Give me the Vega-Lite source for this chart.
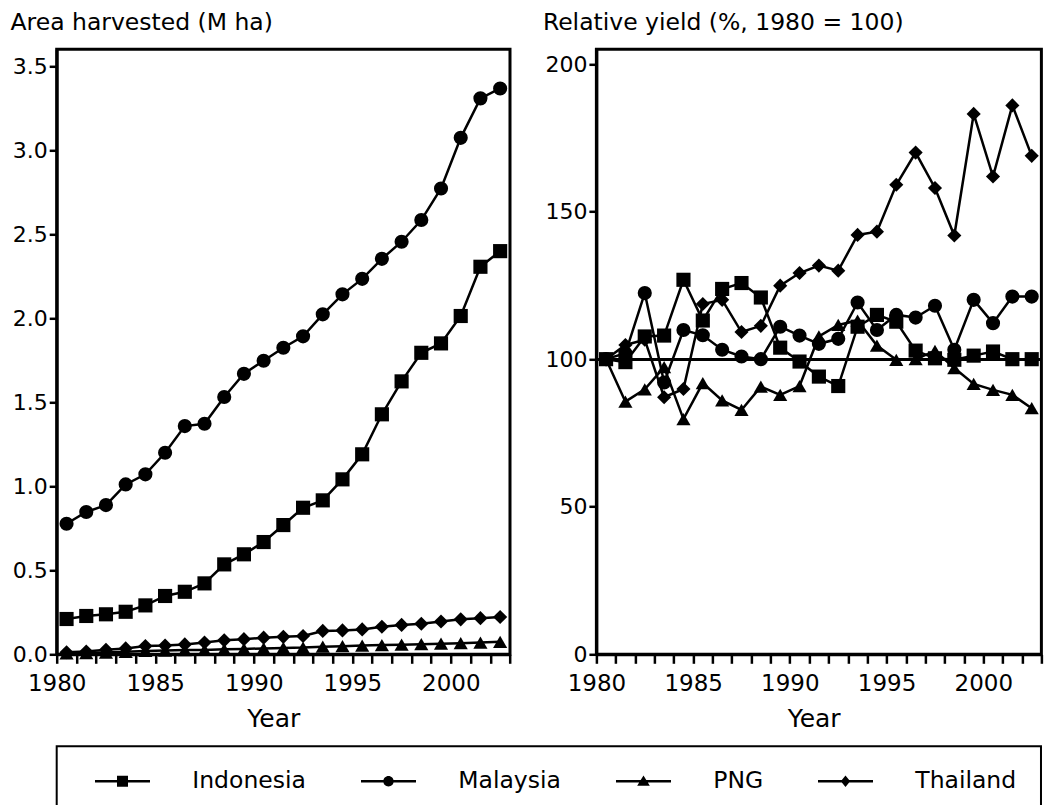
{
  "$schema": "https://vega.github.io/schema/vega-lite/v6.json",
  "autosize": {"type": "pad"},
  "padding": {"left": 7.7, "top": 8.3, "right": 0, "bottom": -4},
  "background": "white",
  "datasets": {
    "area": [
      {"country": "Indonesia", "year": 1980, "value": 0.21},
      {"country": "Indonesia", "year": 1981, "value": 0.228},
      {"country": "Indonesia", "year": 1982, "value": 0.238},
      {"country": "Indonesia", "year": 1983, "value": 0.253},
      {"country": "Indonesia", "year": 1984, "value": 0.291},
      {"country": "Indonesia", "year": 1985, "value": 0.347},
      {"country": "Indonesia", "year": 1986, "value": 0.372},
      {"country": "Indonesia", "year": 1987, "value": 0.422},
      {"country": "Indonesia", "year": 1988, "value": 0.535},
      {"country": "Indonesia", "year": 1989, "value": 0.595},
      {"country": "Indonesia", "year": 1990, "value": 0.668},
      {"country": "Indonesia", "year": 1991, "value": 0.769},
      {"country": "Indonesia", "year": 1992, "value": 0.872},
      {"country": "Indonesia", "year": 1993, "value": 0.916},
      {"country": "Indonesia", "year": 1994, "value": 1.041},
      {"country": "Indonesia", "year": 1995, "value": 1.19},
      {"country": "Indonesia", "year": 1996, "value": 1.428},
      {"country": "Indonesia", "year": 1997, "value": 1.624},
      {"country": "Indonesia", "year": 1998, "value": 1.794},
      {"country": "Indonesia", "year": 1999, "value": 1.85},
      {"country": "Indonesia", "year": 2000, "value": 2.013},
      {"country": "Indonesia", "year": 2001, "value": 2.306},
      {"country": "Indonesia", "year": 2002, "value": 2.399},
      {"country": "Malaysia", "year": 1980, "value": 0.777},
      {"country": "Malaysia", "year": 1981, "value": 0.847},
      {"country": "Malaysia", "year": 1982, "value": 0.888},
      {"country": "Malaysia", "year": 1983, "value": 1.011},
      {"country": "Malaysia", "year": 1984, "value": 1.071},
      {"country": "Malaysia", "year": 1985, "value": 1.199},
      {"country": "Malaysia", "year": 1986, "value": 1.358},
      {"country": "Malaysia", "year": 1987, "value": 1.372},
      {"country": "Malaysia", "year": 1988, "value": 1.531},
      {"country": "Malaysia", "year": 1989, "value": 1.669},
      {"country": "Malaysia", "year": 1990, "value": 1.747},
      {"country": "Malaysia", "year": 1991, "value": 1.824},
      {"country": "Malaysia", "year": 1992, "value": 1.892},
      {"country": "Malaysia", "year": 1993, "value": 2.023},
      {"country": "Malaysia", "year": 1994, "value": 2.142},
      {"country": "Malaysia", "year": 1995, "value": 2.234},
      {"country": "Malaysia", "year": 1996, "value": 2.353},
      {"country": "Malaysia", "year": 1997, "value": 2.455},
      {"country": "Malaysia", "year": 1998, "value": 2.584},
      {"country": "Malaysia", "year": 1999, "value": 2.772},
      {"country": "Malaysia", "year": 2000, "value": 3.073},
      {"country": "Malaysia", "year": 2001, "value": 3.308},
      {"country": "Malaysia", "year": 2002, "value": 3.367},
      {"country": "PNG", "year": 1980, "value": 0.005},
      {"country": "PNG", "year": 1981, "value": 0.007},
      {"country": "PNG", "year": 1982, "value": 0.01},
      {"country": "PNG", "year": 1983, "value": 0.015},
      {"country": "PNG", "year": 1984, "value": 0.02},
      {"country": "PNG", "year": 1985, "value": 0.022},
      {"country": "PNG", "year": 1986, "value": 0.025},
      {"country": "PNG", "year": 1987, "value": 0.026},
      {"country": "PNG", "year": 1988, "value": 0.03},
      {"country": "PNG", "year": 1989, "value": 0.032},
      {"country": "PNG", "year": 1990, "value": 0.035},
      {"country": "PNG", "year": 1991, "value": 0.038},
      {"country": "PNG", "year": 1992, "value": 0.04},
      {"country": "PNG", "year": 1993, "value": 0.045},
      {"country": "PNG", "year": 1994, "value": 0.048},
      {"country": "PNG", "year": 1995, "value": 0.052},
      {"country": "PNG", "year": 1996, "value": 0.055},
      {"country": "PNG", "year": 1997, "value": 0.057},
      {"country": "PNG", "year": 1998, "value": 0.06},
      {"country": "PNG", "year": 1999, "value": 0.063},
      {"country": "PNG", "year": 2000, "value": 0.066},
      {"country": "PNG", "year": 2001, "value": 0.07},
      {"country": "PNG", "year": 2002, "value": 0.074},
      {"country": "Thailand", "year": 1980, "value": 0.012},
      {"country": "Thailand", "year": 1981, "value": 0.016},
      {"country": "Thailand", "year": 1982, "value": 0.027},
      {"country": "Thailand", "year": 1983, "value": 0.035},
      {"country": "Thailand", "year": 1984, "value": 0.049},
      {"country": "Thailand", "year": 1985, "value": 0.052},
      {"country": "Thailand", "year": 1986, "value": 0.059},
      {"country": "Thailand", "year": 1987, "value": 0.07},
      {"country": "Thailand", "year": 1988, "value": 0.083},
      {"country": "Thailand", "year": 1989, "value": 0.09},
      {"country": "Thailand", "year": 1990, "value": 0.099},
      {"country": "Thailand", "year": 1991, "value": 0.104},
      {"country": "Thailand", "year": 1992, "value": 0.109},
      {"country": "Thailand", "year": 1993, "value": 0.139},
      {"country": "Thailand", "year": 1994, "value": 0.142},
      {"country": "Thailand", "year": 1995, "value": 0.148},
      {"country": "Thailand", "year": 1996, "value": 0.164},
      {"country": "Thailand", "year": 1997, "value": 0.175},
      {"country": "Thailand", "year": 1998, "value": 0.182},
      {"country": "Thailand", "year": 1999, "value": 0.195},
      {"country": "Thailand", "year": 2000, "value": 0.208},
      {"country": "Thailand", "year": 2001, "value": 0.215},
      {"country": "Thailand", "year": 2002, "value": 0.222}
    ],
    "yield": [
      {"country": "Indonesia", "year": 1980, "value": 100},
      {"country": "Indonesia", "year": 1981, "value": 99.0},
      {"country": "Indonesia", "year": 1982, "value": 107.7},
      {"country": "Indonesia", "year": 1983, "value": 108.0},
      {"country": "Indonesia", "year": 1984, "value": 126.9},
      {"country": "Indonesia", "year": 1985, "value": 113.1},
      {"country": "Indonesia", "year": 1986, "value": 123.8},
      {"country": "Indonesia", "year": 1987, "value": 125.8},
      {"country": "Indonesia", "year": 1988, "value": 120.9},
      {"country": "Indonesia", "year": 1989, "value": 103.9},
      {"country": "Indonesia", "year": 1990, "value": 99.2},
      {"country": "Indonesia", "year": 1991, "value": 94.1},
      {"country": "Indonesia", "year": 1992, "value": 90.9},
      {"country": "Indonesia", "year": 1993, "value": 111.0},
      {"country": "Indonesia", "year": 1994, "value": 115.0},
      {"country": "Indonesia", "year": 1995, "value": 112.7},
      {"country": "Indonesia", "year": 1996, "value": 102.9},
      {"country": "Indonesia", "year": 1997, "value": 100.3},
      {"country": "Indonesia", "year": 1998, "value": 99.8},
      {"country": "Indonesia", "year": 1999, "value": 101.2},
      {"country": "Indonesia", "year": 2000, "value": 102.6},
      {"country": "Indonesia", "year": 2001, "value": 100},
      {"country": "Indonesia", "year": 2002, "value": 100},
      {"country": "Malaysia", "year": 1980, "value": 100},
      {"country": "Malaysia", "year": 1981, "value": 102},
      {"country": "Malaysia", "year": 1982, "value": 122.4},
      {"country": "Malaysia", "year": 1983, "value": 92.1},
      {"country": "Malaysia", "year": 1984, "value": 109.9},
      {"country": "Malaysia", "year": 1985, "value": 108.1},
      {"country": "Malaysia", "year": 1986, "value": 103.2},
      {"country": "Malaysia", "year": 1987, "value": 100.9},
      {"country": "Malaysia", "year": 1988, "value": 100.0},
      {"country": "Malaysia", "year": 1989, "value": 111.0},
      {"country": "Malaysia", "year": 1990, "value": 108.0},
      {"country": "Malaysia", "year": 1991, "value": 105.2},
      {"country": "Malaysia", "year": 1992, "value": 106.9},
      {"country": "Malaysia", "year": 1993, "value": 119.2},
      {"country": "Malaysia", "year": 1994, "value": 109.9},
      {"country": "Malaysia", "year": 1995, "value": 115.0},
      {"country": "Malaysia", "year": 1996, "value": 114.1},
      {"country": "Malaysia", "year": 1997, "value": 118.1},
      {"country": "Malaysia", "year": 1998, "value": 103.2},
      {"country": "Malaysia", "year": 1999, "value": 120.1},
      {"country": "Malaysia", "year": 2000, "value": 112.2},
      {"country": "Malaysia", "year": 2001, "value": 121.2},
      {"country": "Malaysia", "year": 2002, "value": 121.2},
      {"country": "PNG", "year": 1980, "value": 100},
      {"country": "PNG", "year": 1981, "value": 85.6},
      {"country": "PNG", "year": 1982, "value": 89.8},
      {"country": "PNG", "year": 1983, "value": 97.3},
      {"country": "PNG", "year": 1984, "value": 79.7},
      {"country": "PNG", "year": 1985, "value": 91.9},
      {"country": "PNG", "year": 1986, "value": 86.0},
      {"country": "PNG", "year": 1987, "value": 82.8},
      {"country": "PNG", "year": 1988, "value": 90.7},
      {"country": "PNG", "year": 1989, "value": 87.9},
      {"country": "PNG", "year": 1990, "value": 90.9},
      {"country": "PNG", "year": 1991, "value": 107.7},
      {"country": "PNG", "year": 1992, "value": 111.6},
      {"country": "PNG", "year": 1993, "value": 113.1},
      {"country": "PNG", "year": 1994, "value": 104.6},
      {"country": "PNG", "year": 1995, "value": 99.8},
      {"country": "PNG", "year": 1996, "value": 100},
      {"country": "PNG", "year": 1997, "value": 102.8},
      {"country": "PNG", "year": 1998, "value": 97.0},
      {"country": "PNG", "year": 1999, "value": 91.6},
      {"country": "PNG", "year": 2000, "value": 89.6},
      {"country": "PNG", "year": 2001, "value": 87.9},
      {"country": "PNG", "year": 2002, "value": 83.4},
      {"country": "Thailand", "year": 1980, "value": 100},
      {"country": "Thailand", "year": 1981, "value": 104.8},
      {"country": "Thailand", "year": 1982, "value": 106.6},
      {"country": "Thailand", "year": 1983, "value": 87.1},
      {"country": "Thailand", "year": 1984, "value": 89.9},
      {"country": "Thailand", "year": 1985, "value": 118.7},
      {"country": "Thailand", "year": 1986, "value": 120.1},
      {"country": "Thailand", "year": 1987, "value": 109.2},
      {"country": "Thailand", "year": 1988, "value": 111.3},
      {"country": "Thailand", "year": 1989, "value": 124.9},
      {"country": "Thailand", "year": 1990, "value": 129.2},
      {"country": "Thailand", "year": 1991, "value": 131.7},
      {"country": "Thailand", "year": 1992, "value": 130.0},
      {"country": "Thailand", "year": 1993, "value": 142.1},
      {"country": "Thailand", "year": 1994, "value": 143.2},
      {"country": "Thailand", "year": 1995, "value": 159.1},
      {"country": "Thailand", "year": 1996, "value": 170.0},
      {"country": "Thailand", "year": 1997, "value": 158.0},
      {"country": "Thailand", "year": 1998, "value": 141.9},
      {"country": "Thailand", "year": 1999, "value": 183.1},
      {"country": "Thailand", "year": 2000, "value": 161.9},
      {"country": "Thailand", "year": 2001, "value": 186.0},
      {"country": "Thailand", "year": 2002, "value": 168.9}
    ]
  },
  "config": {
    "font": "DejaVu Sans",
    "view": {"stroke": "black", "strokeWidth": 3},
    "axis": {
      "domainColor": "black", "domainWidth": 3, "tickColor": "black", "tickWidth": 2.5,
      "labelColor": "black", "titleColor": "black", "labelFont": "DejaVu Sans", "titleFont": "DejaVu Sans",
      "titleFontWeight": "normal", "grid": false, "labelFlush": false, "labelOverlap": false
    },
    "axisX": {"tickSize": 9, "labelFontSize": 23, "labelPadding": 9, "titleFontSize": 25, "labelOverlap": false},
    "axisY": {"tickSize": 7.5, "labelFontSize": 22, "labelPadding": 2, "titleFontSize": 23.5}
  },
  "resolve": {"scale": {"shape": "independent"}, "legend": {"shape": "independent"}},
  "bounds": "full",
  "spacing": 11,
  "vconcat": [
    {
      "bounds": "flush",
      "spacing": 85.7,
      "hconcat": [
        {
          "width": 453.3,
          "height": 605,
          "data": {"name": "area"},
          "layer": [
            {
              "mark": {"type": "line", "color": "black", "strokeWidth": 2.5},
              "encoding": {
                "x": {"field": "year", "type": "quantitative", "scale": {"domain": [1979.5, 2002.5], "nice": false, "zero": false},
                  "axis": {"values": [1979.5,1980.5,1981.5,1982.5,1983.5,1984.5,1985.5,1986.5,1987.5,1988.5,1989.5,1990.5,1991.5,1992.5,1993.5,1994.5,1995.5,1996.5,1997.5,1998.5,1999.5,2000.5,2001.5,2002.5],
                    "labelExpr": "(datum.value - 1979.5) % 5 === 0 ? '' + (datum.value + 0.5) : ''", "labelDx": 9.9,
                    "labelOverlap": false, "labelFlush": false,
                    "title": "Year", "titleX": 216.6, "titleY": 72.7, "titleBaseline": "alphabetic", "titleAlign": "center"}},
                "y": {"field": "value", "type": "quantitative", "scale": {"domain": [0, 3.6], "nice": false},
                  "axis": {"values": [0, 0.5, 1, 1.5, 2, 2.5, 3, 3.5], "format": ".1f", "labelOverlap": false,
                    "title": "Area harvested (M ha)", "titleAngle": 0, "titleAlign": "left", "titleBaseline": "alphabetic", "titleX": -46.7, "titleY": -20}},
                "detail": {"field": "country", "type": "nominal"}
              }
            },
            {
              "mark": {"type": "point", "filled": true, "opacity": 1, "color": "black", "size": 200},
              "encoding": {
                "x": {"field": "year", "type": "quantitative", "scale": {"domain": [1979.5, 2002.5], "nice": false, "zero": false},
                  "axis": {"values": [1979.5,1980.5,1981.5,1982.5,1983.5,1984.5,1985.5,1986.5,1987.5,1988.5,1989.5,1990.5,1991.5,1992.5,1993.5,1994.5,1995.5,1996.5,1997.5,1998.5,1999.5,2000.5,2001.5,2002.5],
                    "labelExpr": "(datum.value - 1979.5) % 5 === 0 ? '' + (datum.value + 0.5) : ''", "labelDx": 9.9,
                    "labelOverlap": false, "labelFlush": false,
                    "title": "Year", "titleX": 216.6, "titleY": 72.7, "titleBaseline": "alphabetic", "titleAlign": "center"}},
                "y": {"field": "value", "type": "quantitative", "scale": {"domain": [0, 3.6], "nice": false},
                  "axis": {"values": [0, 0.5, 1, 1.5, 2, 2.5, 3, 3.5], "format": ".1f", "labelOverlap": false,
                    "title": "Area harvested (M ha)", "titleAngle": 0, "titleAlign": "left", "titleBaseline": "alphabetic", "titleX": -46.7, "titleY": -20}},
                "shape": {"field": "country", "type": "nominal",
                  "scale": {"domain": ["Indonesia", "Malaysia", "PNG", "Thailand"], "range": ["square", "circle", "triangle-up", "diamond"]},
                  "legend": null}
              }
            }
          ]
        },
        {
          "width": 445,
          "height": 605,
          "data": {"name": "yield"},
          "layer": [
            {
              "mark": {"type": "rule", "color": "black", "strokeWidth": 2.5},
              "encoding": {"y": {"datum": 100}}
            },
            {
              "mark": {"type": "line", "color": "black", "strokeWidth": 2.5},
              "encoding": {
                "x": {"field": "year", "type": "quantitative", "scale": {"domain": [1979.5, 2002.5], "nice": false, "zero": false},
                  "axis": {"values": [1979.5,1980.5,1981.5,1982.5,1983.5,1984.5,1985.5,1986.5,1987.5,1988.5,1989.5,1990.5,1991.5,1992.5,1993.5,1994.5,1995.5,1996.5,1997.5,1998.5,1999.5,2000.5,2001.5,2002.5],
                    "labelExpr": "(datum.value - 1979.5) % 5 === 0 ? '' + (datum.value + 0.5) : ''", "labelDx": 9.7,
                    "labelOverlap": false, "labelFlush": false,
                    "title": "Year", "titleX": 217.3, "titleY": 72.7, "titleBaseline": "alphabetic", "titleAlign": "center"}},
                "y": {"field": "value", "type": "quantitative", "scale": {"domain": [0, 205], "nice": false},
                  "axis": {"values": [0, 50, 100, 150, 200], "labelOverlap": false,
                    "title": "Relative yield (%, 1980 = 100)", "titleAngle": 0, "titleAlign": "left", "titleBaseline": "alphabetic", "titleX": -54, "titleY": -20}},
                "detail": {"field": "country", "type": "nominal"}
              }
            },
            {
              "mark": {"type": "point", "filled": true, "opacity": 1, "color": "black", "size": 200},
              "encoding": {
                "x": {"field": "year", "type": "quantitative", "scale": {"domain": [1979.5, 2002.5], "nice": false, "zero": false},
                  "axis": {"values": [1979.5,1980.5,1981.5,1982.5,1983.5,1984.5,1985.5,1986.5,1987.5,1988.5,1989.5,1990.5,1991.5,1992.5,1993.5,1994.5,1995.5,1996.5,1997.5,1998.5,1999.5,2000.5,2001.5,2002.5],
                    "labelExpr": "(datum.value - 1979.5) % 5 === 0 ? '' + (datum.value + 0.5) : ''", "labelDx": 9.7,
                    "labelOverlap": false, "labelFlush": false,
                    "title": "Year", "titleX": 217.3, "titleY": 72.7, "titleBaseline": "alphabetic", "titleAlign": "center"}},
                "y": {"field": "value", "type": "quantitative", "scale": {"domain": [0, 205], "nice": false},
                  "axis": {"values": [0, 50, 100, 150, 200], "labelOverlap": false,
                    "title": "Relative yield (%, 1980 = 100)", "titleAngle": 0, "titleAlign": "left", "titleBaseline": "alphabetic", "titleX": -54, "titleY": -20}},
                "shape": {"field": "country", "type": "nominal",
                  "scale": {"domain": ["Indonesia", "Malaysia", "PNG", "Thailand"], "range": ["square", "circle", "triangle-up", "diamond"]},
                  "legend": null}
              }
            }
          ]
        }
      ]
    },
    {
      "width": 984.3,
      "height": 62,
      "view": {"stroke": "black", "strokeWidth": 2},
      "data": {"name": "area"},
      "mark": {"type": "point", "filled": true, "opacity": 0, "color": "black"},
      "encoding": {
        "shape": {"field": "country", "type": "nominal",
          "scale": {"domain": ["Indonesia", "Malaysia", "PNG", "Thailand"],
            "range": [
              "M-1,-0.045L1,-0.045L1,0.045L-1,0.045ZM-0.2,-0.2L0.2,-0.2L0.2,0.2L-0.2,0.2Z",
              "M-1,-0.045L1,-0.045L1,0.045L-1,0.045ZM0.19,0A0.19,0.19,0,1,1,-0.19,0A0.19,0.19,0,1,1,0.19,0Z",
              "M-1,-0.045L1,-0.045L1,0.045L-1,0.045ZM0,-0.21L0.23,0.16L-0.23,0.16Z",
              "M-1,-0.045L1,-0.045L1,0.045L-1,0.045ZM0,-0.21L0.17,0L0,0.21L-0.17,0Z"
            ]},
          "legend": {
            "orient": "none", "legendX": 36.8, "legendY": 6, "direction": "horizontal", "title": null, "padding": 0,
            "symbolSize": 3025, "symbolStrokeWidth": 2.5, "symbolFillColor": "black", "symbolOpacity": 1,
            "labelFont": "DejaVu Sans", "labelFontSize": 23.5, "labelColor": "black", "labelOffset": 40.8, "columnPadding": 49,
            "gridAlign": "none", "labelLimit": 400
          }
        }
      }
    }
  ]
}
